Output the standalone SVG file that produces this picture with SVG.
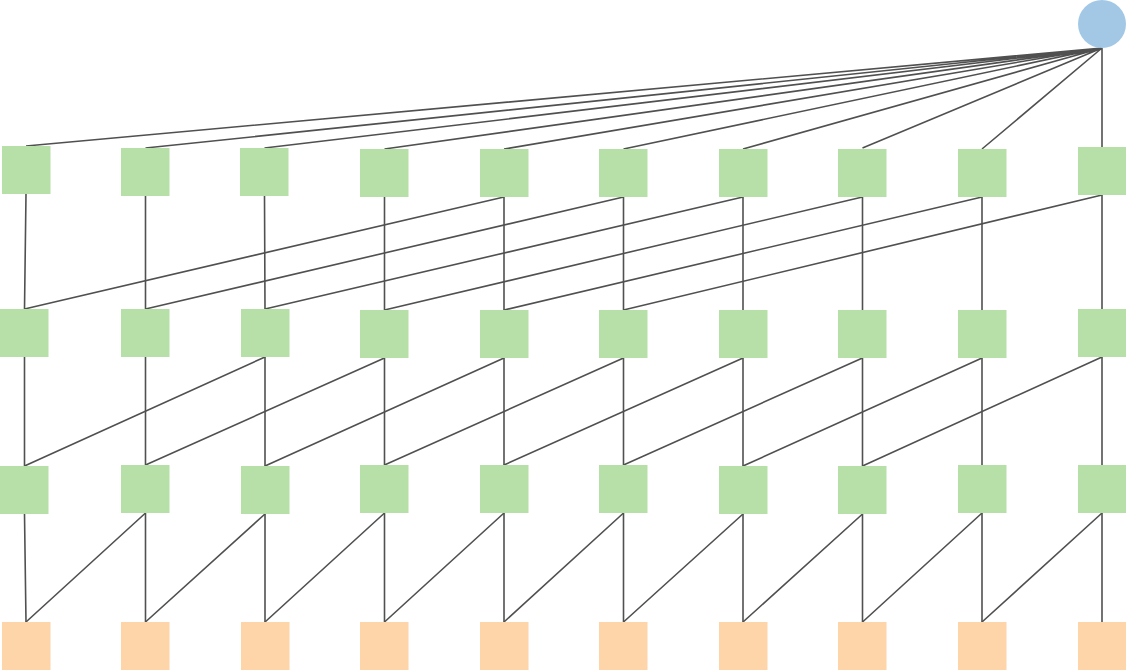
<svg xmlns="http://www.w3.org/2000/svg" width="1126" height="670" viewBox="0 0 1126 670">
<style>
.g{fill:#b7e0a8}
.o{fill:#fed4a9}
.c{fill:#a3c8e6}
#connectors path{stroke:#505050;stroke-width:1.6;fill:none}
</style>
<rect width="1126" height="670" fill="#fff"/>
<g id="connectors">
<path d="M1102 48L26 146M1102 48L145.5 148M1102 48L264.5 148M1102 48L384.5 149M1102 48L504 149M1102 48L623.5 149M1102 48L743 149M1102 48L862.5 148M1102 48L982 149M1102 48L1102 147"/>
<path d="M26 194L24.5 309M145.5 196L145.5 309M264.5 196L265 309M384.5 197L384.5 310M504 197L504 310M623.5 197L623.5 310M743 197L743 310M862.5 197L862.5 310M982 197L982 310M1102 195L1102 309"/>
<path d="M504 197L24.5 309M623.5 197L145.5 309M743 197L265 309M862.5 197L384.5 310M982 197L504 310M1102 195L623.5 310"/>
<path d="M24.5 357L24.5 466M145.5 357L145.5 465M265 357L265 466M384.5 358L384.5 465M504 358L504 465M623.5 358L623.5 465M743 358L743 466M862.5 358L862.5 466M982 358L982 465M1102 357L1102 465"/>
<path d="M265 357L24.5 466M384.5 358L145.5 465M504 358L265 466M623.5 358L384.5 465M743 358L504 465M862.5 358L623.5 465M982 358L743 466M1102 357L862.5 466"/>
<path d="M24.5 514L26 622M145.5 513L145.5 622M265 514L265 622M384.5 513L384.5 622M504 513L504 622M623.5 513L623.5 622M743 514L743 622M862.5 514L862.5 622M982 513L982 622M1102 513L1102 622"/>
<path d="M145.5 513L26 622M265 514L145.5 622M384.5 513L265 622M504 513L384.5 622M623.5 513L504 622M743 514L623.5 622M862.5 514L743 622M982 513L862.5 622M1102 513L982 622"/>
</g>
<g id="root"><circle class="c" cx="1102" cy="24" r="24"/></g>
<g id="r1">
<rect id="r1n0" class="g" x="2" y="146" width="48.5" height="48"/>
<rect id="r1n1" class="g" x="121" y="148" width="48.5" height="48"/>
<rect id="r1n2" class="g" x="240" y="148" width="48.5" height="48"/>
<rect id="r1n3" class="g" x="360" y="149" width="48.5" height="48"/>
<rect id="r1n4" class="g" x="480" y="149" width="48.5" height="48"/>
<rect id="r1n5" class="g" x="599" y="149" width="48.5" height="48"/>
<rect id="r1n6" class="g" x="719" y="149" width="48.5" height="48"/>
<rect id="r1n7" class="g" x="838" y="149" width="48.5" height="48"/>
<rect id="r1n8" class="g" x="958" y="149" width="48.5" height="48"/>
<rect id="r1n9" class="g" x="1078" y="147" width="48" height="48"/>
</g>
<g id="r2">
<rect id="r2n0" class="g" x="0" y="309" width="48.5" height="48"/>
<rect id="r2n1" class="g" x="121" y="309" width="48.5" height="48"/>
<rect id="r2n2" class="g" x="241" y="309" width="48.5" height="48"/>
<rect id="r2n3" class="g" x="360" y="310" width="48.5" height="48"/>
<rect id="r2n4" class="g" x="480" y="310" width="48.5" height="48"/>
<rect id="r2n5" class="g" x="599" y="310" width="48.5" height="48"/>
<rect id="r2n6" class="g" x="719" y="310" width="48.5" height="48"/>
<rect id="r2n7" class="g" x="838" y="310" width="48.5" height="48"/>
<rect id="r2n8" class="g" x="958" y="310" width="48.5" height="48"/>
<rect id="r2n9" class="g" x="1078" y="309" width="48" height="48"/>
</g>
<g id="r3">
<rect id="r3n0" class="g" x="0" y="466" width="48.5" height="48"/>
<rect id="r3n1" class="g" x="121" y="465" width="48.5" height="48"/>
<rect id="r3n2" class="g" x="241" y="466" width="48.5" height="48"/>
<rect id="r3n3" class="g" x="360" y="465" width="48.5" height="48"/>
<rect id="r3n4" class="g" x="480" y="465" width="48.5" height="48"/>
<rect id="r3n5" class="g" x="599" y="465" width="48.5" height="48"/>
<rect id="r3n6" class="g" x="719" y="466" width="48.5" height="48"/>
<rect id="r3n7" class="g" x="838" y="466" width="48.5" height="48"/>
<rect id="r3n8" class="g" x="958" y="465" width="48.5" height="48"/>
<rect id="r3n9" class="g" x="1078" y="465" width="48" height="48"/>
</g>
<g id="r4">
<rect id="r4n0" class="o" x="2" y="622" width="48.5" height="48"/>
<rect id="r4n1" class="o" x="121" y="622" width="48.5" height="48"/>
<rect id="r4n2" class="o" x="241" y="622" width="48.5" height="48"/>
<rect id="r4n3" class="o" x="360" y="622" width="48.5" height="48"/>
<rect id="r4n4" class="o" x="480" y="622" width="48.5" height="48"/>
<rect id="r4n5" class="o" x="599" y="622" width="48.5" height="48"/>
<rect id="r4n6" class="o" x="719" y="622" width="48.5" height="48"/>
<rect id="r4n7" class="o" x="838" y="622" width="48.5" height="48"/>
<rect id="r4n8" class="o" x="958" y="622" width="48.5" height="48"/>
<rect id="r4n9" class="o" x="1078" y="622" width="48" height="48"/>
</g>
</svg>
